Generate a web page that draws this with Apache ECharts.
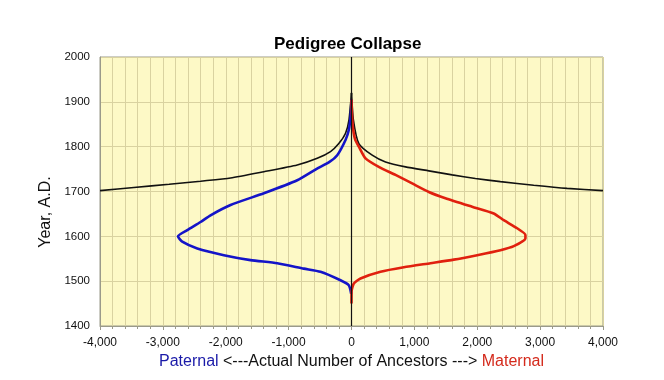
<!DOCTYPE html>
<html><head><meta charset="utf-8">
<script src="https://cdn.jsdelivr.net/npm/echarts@6/dist/echarts.min.js"></script>
<style>html,body{margin:0;padding:0;background:#fff}#c{width:664px;height:380px}</style>
</head><body><div id="c"></div>
<script>
// Year values (y) and ancestor counts (x)
const blackLeftX  = [-4000,-3461,-2900,-2400,-1924,-1394,-863,-545,-334,-202,-95,-40,0];
const blackLeftY  = [1702,1709,1716,1723,1730,1744,1759,1774,1789,1807,1830,1860,1920];
const blackRightX = [0,30,117,329,541,859,1230,1601,1971,2369,2898,3429,4000];
const blackRightY = [1920,1860,1807,1781,1766,1755,1746,1737,1729,1722,1714,1707,1702];
const paternalX = [-5,-43,-175,-493,-758,-1181,-1606,-2030,-2453,-2692,-2760,-2612,-2400,-2242,-1924,-1394,-863,-560,-350,-227,-95,-43,-15,0];
const paternalY = [1472,1491,1502,1521,1528,1540,1547,1558,1573,1588,1600,1614,1632,1647,1670,1696,1725,1750,1766,1781,1815,1837,1867,1905];
const maternalX = [0,2,37,143,461,832,1256,1627,1998,2369,2581,2766,2766,2634,2422,2262,1918,1494,1230,965,700,434,223,117,60,25,8,0];
const maternalY = [1450,1478,1495,1506,1521,1531,1540,1548,1558,1569,1578,1595,1603,1618,1636,1651,1666,1685,1699,1718,1737,1755,1774,1800,1815,1840,1870,1905];
const xTicks = [-4000,-3000,-2000,-1000,0,1000,2000,3000,4000];
const yTicks = [1400,1500,1600,1700,1800,1900,2000];

const pairs = (xs, ys) => xs.map((x, i) => [x, ys[i]]);
const chart = echarts.init(document.getElementById('c'));
const font = '"Liberation Sans", Arial, sans-serif';
chart.setOption({
  animation: false,
  textStyle: { fontFamily: font },
  title: { text: 'Pedigree Collapse', left: 269, top: 31,
    textStyle: { fontSize: 17, fontWeight: 'bold', color: '#000', fontFamily: font } },
  grid: { left: 100, right: 61, top: 57, bottom: 54, show: true,
    backgroundColor: '#fdf9c6', borderColor: '#9a9a8a', borderWidth: 1 },
  xAxis: {
    type: 'value', min: xTicks[0], max: xTicks[xTicks.length - 1], interval: 1000,
    axisLine: { show: true, onZero: false, lineStyle: { color: '#9a9a8a' } },
    axisTick: { show: true, inside: false, length: 4, lineStyle: { color: '#9a9a8a' } },
    minorTick: { show: true, splitNumber: 5, length: 3, lineStyle: { color: '#9a9a8a' } },
    splitLine: { show: true, lineStyle: { color: '#d9d2a0', width: 1 } },
    minorSplitLine: { show: true, lineStyle: { color: '#d9d2a0', width: 1 } },
    axisLabel: { color: '#111', fontSize: 12, margin: 11,
      formatter: v => v.toLocaleString('en-US') },
    name: '{p|Paternal} <---Actual Number of Ancestors ---> {m|Maternal}',
    nameLocation: 'middle', nameGap: 28,
    nameTextStyle: { fontSize: 16, color: '#111', fontFamily: font,
      rich: { p: { fontSize: 16, color: '#1a1aa8', fontFamily: font },
              m: { fontSize: 16, color: '#d42a1c', fontFamily: font } } }
  },
  yAxis: {
    type: 'value', min: yTicks[0], max: yTicks[yTicks.length - 1], interval: 100,
    axisLine: { show: true, onZero: false, lineStyle: { color: '#9a9a8a' } },
    axisTick: { show: false },
    splitLine: { show: true, lineStyle: { color: '#d9d2a0', width: 1 } },
    axisLabel: { color: '#111', fontSize: 11.5, margin: 10, formatter: v => String(v) }
  },
  graphic: [{ type: 'text', x: 46, y: 212, rotation: Math.PI / 2,
    style: { text: 'Year, A.D.', fontSize: 16, fill: '#111', fontFamily: font,
      textAlign: 'center', textVerticalAlign: 'middle' } }],
  series: [
    { type: 'line', data: pairs(blackLeftX, blackLeftY), showSymbol: false, smooth: 0.2,
      lineStyle: { color: '#111', width: 1.6 }, z: 3,
      markLine: { silent: true, symbol: 'none', label: { show: false },
        lineStyle: { color: '#111', width: 1.2, type: 'solid' }, data: [{ xAxis: 0 }] } },
    { type: 'line', data: pairs(blackRightX, blackRightY), showSymbol: false, smooth: 0.2,
      lineStyle: { color: '#111', width: 1.6 }, z: 3 },
    { type: 'line', data: pairs(paternalX, paternalY), showSymbol: false, smooth: 0.2,
      lineStyle: { color: '#1414c8', width: 2.6 }, z: 4 },
    { type: 'line', data: pairs(maternalX, maternalY), showSymbol: false, smooth: 0.2,
      lineStyle: { color: '#e0200e', width: 2.6 }, z: 4 }
  ]
});
</script></body></html>
